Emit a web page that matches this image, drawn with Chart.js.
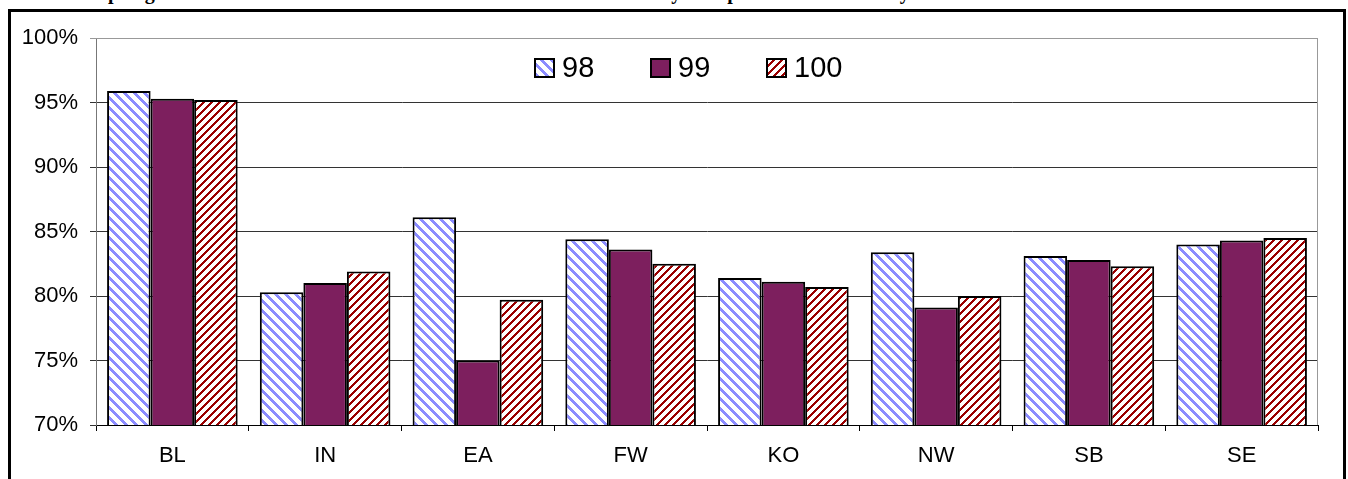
<!DOCTYPE html>
<html>
<head>
<meta charset="utf-8">
<script src="https://cdn.jsdelivr.net/npm/chart.js@4"></script>
<style>
  html, body { margin: 0; padding: 0; background: #fff; overflow: hidden; }
  #wrap { position: relative; width: 1348px; height: 479px; overflow: hidden; }
  #frame { position: absolute; left: 8px; top: 9px; width: 1332px; height: 500px; border: 3px solid #000; pointer-events: none; }
  #title { position: absolute; left: 37px; top: -19px; font: bold 20px "Liberation Serif", "Times New Roman", serif; white-space: nowrap; color: #000; }
  canvas { position: absolute; left: 0; top: 0; }
</style>
</head>
<body>
<div id="wrap">
  <div id="title">Fall to Spring Persistence of First-Time Students to the Second Semester by Campus – Full-Time Only</div>
  <canvas id="chart" width="1348" height="479"></canvas>
  <div id="frame"></div>
</div>
<script>
// ข้อมูล
var categories = ['BL', 'IN', 'EA', 'FW', 'KO', 'NW', 'SB', 'SE'];
var seriesLabels = ['98', '99', '100'];
var values98 = [95.9, 80.3, 86.1, 84.4, 81.4, 83.4, 83.1, 84.0];
var values99 = [95.3, 81.0, 75.0, 83.6, 81.1, 79.1, 82.8, 84.3];
var values100 = [95.2, 81.9, 79.7, 82.5, 80.7, 80.0, 82.3, 84.5];
var yTicks = [70, 75, 80, 85, 90, 95, 100];

var ctx = document.getElementById('chart').getContext('2d');

// ลายเส้นทแยง
function makeHatch(color, dir, size, band) {
    var c = document.createElement('canvas');
    c.width = size; c.height = size;
    var g = c.getContext('2d');
    g.fillStyle = '#fff';
    g.fillRect(0, 0, size, size);
    g.fillStyle = color;
    for (var y = 0; y < size; y++) {
        for (var x = 0; x < size; x++) {
            var k = dir > 0 ? (x + y) % size : ((x - y) % size + size) % size;
            if (k < band) g.fillRect(x, y, 1, 1);
        }
    }
    return ctx.createPattern(c, 'repeat');
}

var fills = [makeHatch('#8c8cff', -1, 10, 4), '#7d1f5e', makeHatch('#9a0000', 1, 8, 3)];

// legend แบบวาดเอง
var legendPlugin = {
    id: 'boxLegend',
    afterDraw: function(chart) {
        var c = chart.ctx;
        var area = chart.chartArea;
        var x = area.left + 439;
        var y = 68;
        c.save();
        c.font = '29px "Liberation Sans", Arial, sans-serif';
        c.textBaseline = 'middle';
        chart.data.datasets.forEach(function(ds, i) {
            c.fillStyle = ds.backgroundColor;
            c.fillRect(x, y - 9, 19, 18);
            c.strokeStyle = '#000';
            c.lineWidth = 2;
            c.strokeRect(x, y - 9, 19, 18);
            c.fillStyle = '#000';
            c.fillText(ds.label, x + 27, y + 1);
            x += 116;
        });
        // กรอบพื้นที่กราฟ
        c.strokeStyle = '#999';
        c.lineWidth = 1;
        c.beginPath();
        c.moveTo(area.left, area.top + 0.5);
        c.lineTo(area.right - 0.5, area.top + 0.5);
        c.lineTo(area.right - 0.5, area.bottom);
        c.stroke();
        c.restore();
    }
};

Chart.defaults.color = '#000';
Chart.defaults.font.family = '"Liberation Sans", Arial, sans-serif';

var datasets = [values98, values99, values100].map(function(vals, i) {
    return {
        label: seriesLabels[i],
        data: vals,
        backgroundColor: fills[i],
        borderColor: '#000',
        borderWidth: 2,
        categoryPercentage: 0.855,
        barPercentage: 1
    };
});

var chart = new Chart(ctx, {
    type: 'bar',
    data: { labels: categories, datasets: datasets },
    options: {
        responsive: false,
        animation: false,
        layout: { padding: { left: 11, right: 30, top: 38, bottom: 0 } },
        plugins: { legend: { display: false }, tooltip: { enabled: false } },
        scales: {
            x: {
                grid: { drawOnChartArea: false, drawTicks: true, tickLength: 6, color: '#000', offset: true },
                border: { color: '#000', width: 1 },
                ticks: { font: { size: 22 }, padding: 12 },
                afterFit: function(s) { s.height = 54; }
            },
            y: {
                min: yTicks[0],
                max: yTicks[yTicks.length - 1],
                afterBuildTicks: function(s) {
                    s.ticks = yTicks.map(function(v) { return { value: v }; });
                },
                grid: {
                    color: function(c) { return c.tick && c.tick.value === 100 ? '#999' : '#333'; },
                    tickLength: 6
                },
                border: { color: '#777', width: 1 },
                ticks: {
                    font: { size: 22 },
                    padding: 12,
                    callback: function(v) { return v + '%'; }
                },
                afterFit: function(s) { s.width = 85; }
            }
        }
    },
    plugins: [legendPlugin]
});
</script>
</body>
</html>
